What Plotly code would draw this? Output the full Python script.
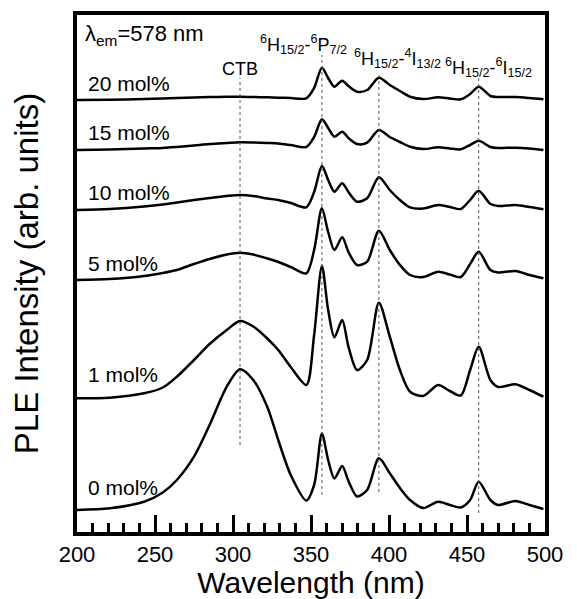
import plotly.graph_objects as go

# Excitation wavelength grid (nm)
wavelength = [200, 221, 243, 255, 264, 275, 285, 296, 304.5, 313, 322, 329, 337, 347, 352,
              357, 361, 365, 370, 374, 379.5, 386, 393.5, 400.5, 407, 413.5, 422, 431.5,
              439, 446, 452, 457.5, 465, 470, 481, 490, 499]

# Stacked PLE intensities (arb. units)
ple_0 = [22, 23.7, 30.3, 39.5, 52, 75.3, 107, 145.3, 162.7, 152, 125, 92, 57, 31.5, 47,
         98.5, 72, 53.5, 66, 51, 35.5, 42, 73.7, 58.7, 44, 32, 24, 30.3,
         27, 24.5, 32, 50.3, 32, 27, 31, 27, 23]
ple_1 = [133.7, 134.3, 138.7, 144.5, 155.3, 172, 188, 202, 211, 205.5, 193.5, 182, 165, 147, 197,
         266, 222, 194.7, 212, 185.3, 162, 172, 229.3, 195.3, 162, 140.3, 136, 147,
         141, 136.5, 162, 185.3, 152, 145, 147.7, 142, 135.3]
ple_5 = [252, 253, 256, 259, 262, 268, 273, 277.5, 279.3, 277.5, 273.5, 270, 265, 258.7, 282,
         323.7, 300, 282, 294.7, 280, 267, 270.3, 301.3, 282, 267, 257, 255, 260.3,
         257.5, 255, 268, 280.3, 262, 259.5, 261, 257, 253.7]
ple_10 = [322, 323, 325.5, 327.5, 329.5, 332, 334, 336, 337, 336, 333.5, 332, 329, 324.7, 340,
          366, 352, 340.3, 348.7, 340, 330.3, 333.7, 354.7, 342, 332, 324.7, 323.5, 327,
          325, 323, 332, 341.3, 328, 326, 327, 325, 322.7]
ple_15 = [382, 382.5, 383.5, 384, 385, 386.5, 388, 389, 389.7, 389.5, 389, 388.5, 387, 385, 395,
          412.7, 404, 395.3, 400.3, 394, 388, 389.3, 402, 395, 390, 385.3, 383, 384.7,
          383.5, 382.7, 387, 391.3, 385, 384, 384.3, 383.5, 382]
ple_20 = [432, 432.3, 433, 433.5, 434, 434.5, 435, 435.2, 435.3, 435, 434.7, 434.3, 434, 433.7, 444,
          464.3, 454, 445.3, 451.3, 446, 440.3, 442, 454.3, 447, 441, 435.3, 433, 434.7,
          433.5, 432.7, 438, 445.3, 436, 435, 435, 434, 432.7]

series = [("0 mol%", ple_0), ("1 mol%", ple_1), ("5 mol%", ple_5),
          ("10 mol%", ple_10), ("15 mol%", ple_15), ("20 mol%", ple_20)]
label_y = [45, 158, 269, 340, 400, 449]

# Transition markers: wavelength, top, bottom of dotted guide
guides_x = [304.5, 357, 393.5, 457.5]
guides_top = [454, 477, 459, 454]
guides_bottom = [87, 37, 40, 19]

# Transition labels
trans_text = ["<sup>6</sup>H<sub>15/2</sub>-<sup>6</sup>P<sub>7/2</sub>",
              "<sup>6</sup>H<sub>15/2</sub>-<sup>4</sup>I<sub>13/2</sub>",
              "<sup>6</sup>H<sub>15/2</sub>-<sup>6</sup>I<sub>15/2</sub>"]
trans_x = [316, 376, 434.6]
trans_y = [488, 474, 465]

FONT = "Liberation Sans, Arial, sans-serif"

fig = go.Figure()
for name, vals in series:
    fig.add_trace(go.Scatter(x=wavelength, y=vals, mode="lines", name=name,
                             line=dict(color="black", width=2.5, shape="spline", smoothing=0.8),
                             showlegend=False))

for gx, gt, gb in zip(guides_x, guides_top, guides_bottom):
    fig.add_shape(type="line", x0=gx, x1=gx, y0=gb, y1=gt, xref="x", yref="y",
                  line=dict(color="#555555", width=1, dash="dot"))

for (name, _), ly in zip(series, label_y):
    fig.add_annotation(x=205.8, y=ly, text=name, showarrow=False, xanchor="left",
                       yanchor="middle", font=dict(size=21, color="black", family=FONT))

fig.add_annotation(x=203.8, y=497, text="λ<sub>em</sub>=578 nm", showarrow=False,
                   xanchor="left", yanchor="middle", font=dict(size=22, color="black", family=FONT))
fig.add_annotation(x=304.8, y=463, text="CTB", showarrow=False, xanchor="center",
                   yanchor="middle", font=dict(size=18, color="black", family=FONT))
for t, tx, ty in zip(trans_text, trans_x, trans_y):
    fig.add_annotation(x=tx, y=ty, text=t, showarrow=False, xanchor="left", yanchor="middle",
                       font=dict(size=18, color="black", family=FONT))

# page body has an 8px default margin, so the figure is sized/offset to compensate
fig.update_layout(
    width=569, height=591,
    margin=dict(l=69, r=32, t=7, b=67),
    plot_bgcolor="white", paper_bgcolor="white",
    font=dict(family=FONT, color="black"),
)
fig.update_xaxes(range=[200, 500], dtick=50, tick0=200, ticks="inside", ticklen=17, tickwidth=3,
                 tickcolor="black", showline=True, linewidth=4, linecolor="black", mirror=True,
                 showgrid=False, zeroline=False, tickfont=dict(size=22, family=FONT),
                 automargin=False,
                 minor=dict(dtick=10, ticks="inside", ticklen=9, tickwidth=3, tickcolor="black",
                            showgrid=False),
                 title=dict(text="Wavelength (nm)", font=dict(size=30, family=FONT), standoff=4))
fig.update_yaxes(range=[0, 517], showticklabels=False, ticks="", showline=True, linewidth=4,
                 linecolor="black", mirror=True, showgrid=False, zeroline=False,
                 automargin=False,
                 title=dict(text="PLE Intensity (arb. units)", font=dict(size=33, family=FONT),
                            standoff=45))

fig.write_html("out.html")
